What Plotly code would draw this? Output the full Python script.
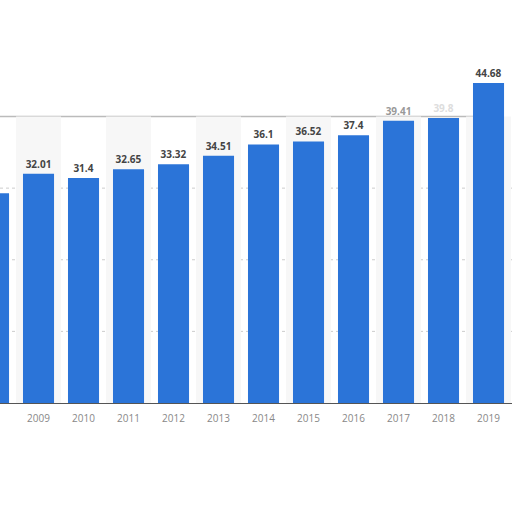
import plotly.graph_objects as go

years = [2008, 2009, 2010, 2011, 2012, 2013, 2014, 2015, 2016, 2017, 2018, 2019]
values = [29.29, 32.01, 31.4, 32.65, 33.32, 34.51, 36.1, 36.52, 37.4, 39.41, 39.8, 44.68]
labels = ["29.29", "32.01", "31.4", "32.65", "33.32", "34.51", "36.1", "36.52", "37.4", "39.41", "39.8", "44.68"]
label_colors = ["#444444"] * 9 + ["#999999", "#dddddd", "#444444"]
tick_text = [str(y) for y in years]
grid_vals = [10, 20, 30]
top_line = 40
shaded_years = [2009, 2011, 2013, 2015, 2017, 2019]

fig = go.Figure()
fig.add_trace(go.Bar(
    x=years, y=values, width=0.69,
    marker=dict(color="#2b74d8", line=dict(width=0)),
    text=labels, textposition="outside", cliponaxis=False,
    textfont=dict(family="Open Sans", size=10, color=label_colors, weight=700),
))

shapes = []
for y in shaded_years:
    shapes.append(dict(type="rect", xref="x", yref="y", x0=y - 0.5, x1=y + 0.5, y0=0, y1=top_line,
                       fillcolor="#f7f7f7", line=dict(width=0), layer="below"))
for g in grid_vals:
    shapes.append(dict(type="line", xref="paper", yref="y", x0=0, x1=1, y0=g, y1=g,
                       line=dict(color="#cccccc", width=1, dash="dot"), layer="below"))
shapes.append(dict(type="line", xref="paper", yref="y", x0=0, x1=0.93, y0=top_line, y1=top_line,
                   line=dict(color="#bbbbbb", width=1.5), layer="below"))
fig.update_layout(
    width=512, height=512,
    margin=dict(l=0, r=0, t=0, b=109),
    paper_bgcolor="white", plot_bgcolor="white",
    showlegend=False,
    shapes=shapes,
    xaxis=dict(range=[2008.144, 2019.522], tickmode="array", tickvals=years, ticktext=tick_text,
               showgrid=False, showline=True, linecolor="#555555", linewidth=1,
               ticks="", ticklabelstandoff=6,
               tickfont=dict(family="Open Sans", size=10, color="#888888")),
    yaxis=dict(range=[0, 56.27], showgrid=False, showticklabels=False, zeroline=False, showline=False),
)
fig.write_html("out.html", config={"displayModeBar": False},
               post_script="document.body.style.margin='0';")
